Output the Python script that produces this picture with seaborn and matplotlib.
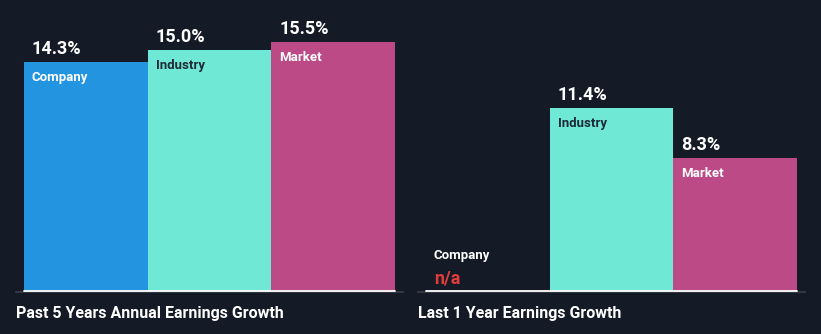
import matplotlib
matplotlib.use("Agg")
import matplotlib.pyplot as plt
from matplotlib.transforms import offset_copy
import seaborn as sns
import pandas as pd
import numpy as np

categories = ["Company", "Industry", "Market"]
past5_values = [14.3, 15.0, 15.5]
last1_values = [None, 11.4, 8.3]
panel_titles = ["Past 5 Years Annual Earnings Growth", "Last 1 Year Earnings Growth"]

BG = "#151b26"
colors = {"Company": "#2394df", "Industry": "#6fe8d6", "Market": "#bb4a86"}
label_colors = {"Company": "#ffffff", "Industry": "#1e2a36", "Market": "#ffffff"}
NA_COLOR = "#e23b3b"

sns.set_theme(style="white")
plt.rcParams["font.family"] = ["Roboto", "DejaVu Sans"]

W, H = 821, 334
fig = plt.figure(figsize=(W / 100, H / 100), dpi=100, facecolor=BG)

px_per_unit = 16.08
ax_h_px = 272
base_px = 291.5
bar_unit_px = 123.67
margin_units = 8 / bar_unit_px

panels = [(16, past5_values, panel_titles[0]), (418, last1_values, panel_titles[1])]

for left_px, vals, title in panels:
    ax = fig.add_axes([left_px / W, (H - base_px) / H, 387 / W, ax_h_px / H])
    ax.set_facecolor(BG)
    plot_vals = [0.0 if v is None else v for v in vals]
    df = pd.DataFrame({"category": categories, "value": plot_vals})
    sns.barplot(data=df, x="category", y="value", hue="category",
                palette=colors, order=categories, hue_order=categories,
                width=1.0, legend=False, ax=ax, linewidth=0, saturation=1)
    ax.set_xlim(-0.5 - margin_units, len(categories) - 0.5 + margin_units)
    ax.set_ylim(0, ax_h_px / px_per_unit)
    for s in ["top", "left", "right"]:
        ax.spines[s].set_visible(False)
    ax.spines["bottom"].set_color("#3a4049")
    ax.spines["bottom"].set_linewidth(1.2)
    ax.set_xticks([])
    ax.set_yticks([])
    ax.set_xlabel("")
    ax.set_ylabel("")
    total = len(categories) + 2 * margin_units
    ax.axhline(0.02, xmin=margin_units / total, xmax=1 - margin_units / total,
               color="white", linewidth=1.3, zorder=5)

    for i, (cat, v) in enumerate(zip(categories, vals)):
        if v is None:
            tr = offset_copy(ax.transData, fig=fig, x=8, y=8, units="dots")
            ax.text(i - 0.5, 0, "n/a", transform=tr, color=NA_COLOR,
                    fontsize=13, fontweight="bold", ha="left", va="baseline")
            tr2 = offset_copy(ax.transData, fig=fig, x=8, y=32, units="dots")
            ax.text(i - 0.5, 0, cat, transform=tr2, color="white",
                    fontsize=9.5, fontweight="bold", ha="left", va="baseline")
        else:
            tr = offset_copy(ax.transData, fig=fig, x=8, y=8, units="dots")
            ax.text(i - 0.5, v, f"{v:.1f}%", transform=tr, color="white",
                    fontsize=13, fontweight="bold", ha="left", va="baseline",
                    clip_on=False)
            tr2 = offset_copy(ax.transData, fig=fig, x=8, y=-19, units="dots")
            ax.text(i - 0.5, v, cat, transform=tr2, color=label_colors[cat],
                    fontsize=9.5, fontweight="bold", ha="left", va="baseline")

    fig.text(left_px / W, (H - 318) / H, title, color="white", fontsize=11.5,
             fontweight="bold", ha="left", va="baseline")

fig.savefig("out.png", dpi=100, facecolor=BG)
